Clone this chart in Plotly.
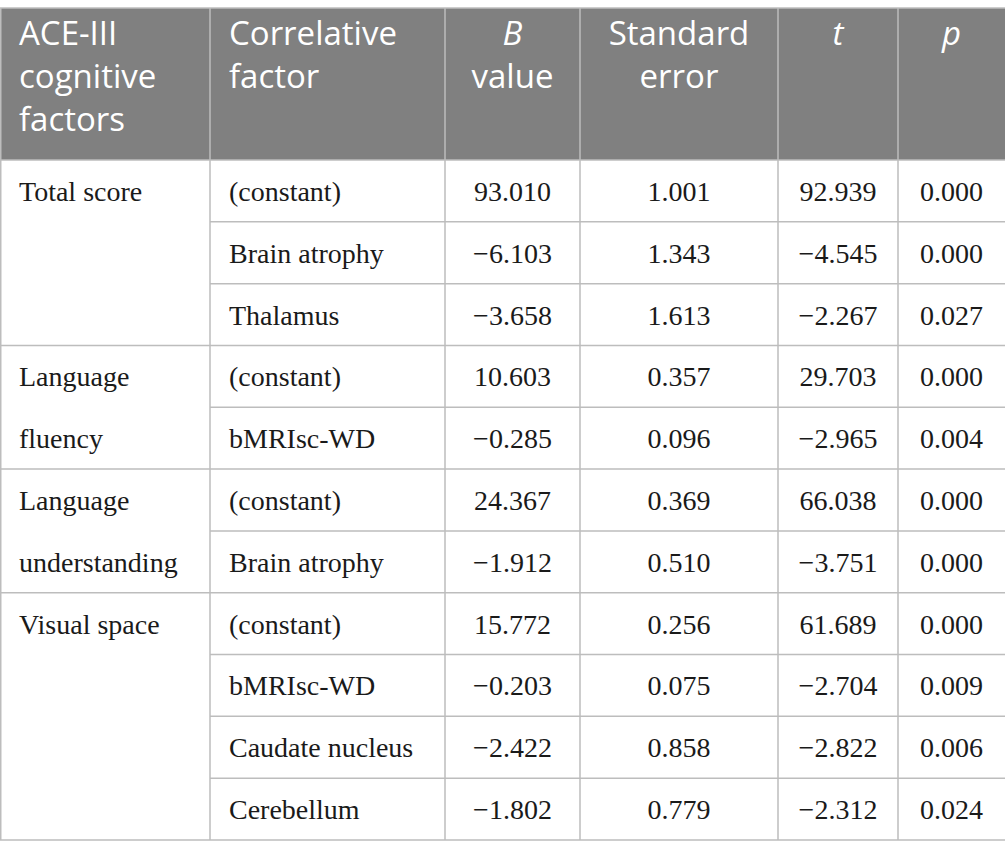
import plotly.graph_objects as go
import numpy as np

# table content
headers = ["ACE-III<br>cognitive<br>factors", "Correlative<br>factor", "<i>B</i><br>value",
           "Standard<br>error", "<i>t</i>", "<i>p</i>"]
group_labels = [["Total score"], ["Language", "fluency"], ["Language", "understanding"], ["Visual space"]]
group_sizes = [3, 2, 2, 4]
factors = ["(constant)", "Brain atrophy", "Thalamus", "(constant)", "bMRIsc-WD", "(constant)",
           "Brain atrophy", "(constant)", "bMRIsc-WD", "Caudate nucleus", "Cerebellum"]
b_value = [93.010, -6.103, -3.658, 10.603, -0.285, 24.367, -1.912, 15.772, -0.203, -2.422, -1.802]
std_err = [1.001, 1.343, 1.613, 0.357, 0.096, 0.369, 0.510, 0.256, 0.075, 0.858, 0.779]
t_value = [92.939, -4.545, -2.267, 29.703, -2.965, 66.038, -3.751, 61.689, -2.704, -2.822, -2.312]
p_value = [0.000, 0.000, 0.027, 0.000, 0.004, 0.000, 0.000, 0.000, 0.009, 0.006, 0.024]

# geometry (px-like units on hidden axes)
W, H = 1005, 856
table_top, header_h, table_bottom = 8, 152, 840
col_w = [210, 235, 135, 198, 120, 107]
left_cols = 2          # first two columns are left aligned
pad = 19
line_col = "#bdbdbd"
head_fill = "#808080"
text_col = "#1a1a1a"


def fmt(vals):
    return [f"{v:.3f}".replace("-", "\u2212") for v in vals]


edges = np.concatenate([[0], np.cumsum(col_w)])
n_rows = len(factors)
body_top = table_top + header_h
row_h = (table_bottom - body_top) / n_rows
row_mid = body_top + row_h * (np.arange(n_rows) + 0.5) + 3

# first column: each label line sits in its own row of the (merged) group
first_col = []
for labels, n in zip(group_labels, group_sizes):
    first_col += labels + [""] * (n - len(labels))

columns = [first_col, factors, fmt(b_value), fmt(std_err), fmt(t_value), fmt(p_value)]

fig = go.Figure()

# header text
for c, h in enumerate(headers):
    left = c < left_cols
    fig.add_trace(go.Scatter(
        x=[edges[c] + pad if left else (edges[c] + edges[c + 1]) / 2],
        y=[table_top + 12],
        mode="text", text=[h],
        textposition="bottom right" if left else "bottom center",
        textfont=dict(family="Open Sans", size=33, color="white"),
        hoverinfo="skip", showlegend=False,
    ))

# body text
for c, vals in enumerate(columns):
    left = c < left_cols
    fig.add_trace(go.Scatter(
        x=[edges[c] + pad if left else (edges[c] + edges[c + 1]) / 2] * n_rows,
        y=row_mid,
        mode="text", text=vals,
        textposition="middle right" if left else "middle center",
        textfont=dict(family="Liberation Serif", size=28, color=text_col),
        hoverinfo="skip", showlegend=False,
    ))

# header background and grid lines
shapes = [dict(type="rect", x0=0, x1=W, y0=table_top, y1=body_top,
               fillcolor=head_fill, line_width=0, layer="below")]


def hline(y, x0, x1):
    return dict(type="line", x0=x0, x1=x1, y0=y, y1=y, line=dict(color=line_col, width=1.5))


shapes.append(hline(table_top, 0, W))
shapes.append(hline(body_top, 0, W))
# row separators for columns 2..6
for r in range(1, n_rows + 1):
    shapes.append(hline(body_top + r * row_h, edges[1], W))
# group separators for the merged first column
k = 0
for n in group_sizes:
    k += n
    shapes.append(hline(body_top + k * row_h, 0, edges[1]))
# column separators
for x in list(edges[:-1]):
    x = max(x, 0.75)
    shapes.append(dict(type="line", x0=x, x1=x, y0=table_top, y1=table_bottom,
                       line=dict(color=line_col, width=1.5)))

fig.update_layout(
    width=W, height=H,
    margin=dict(l=0, r=0, t=0, b=0),
    paper_bgcolor="white", plot_bgcolor="white",
    xaxis=dict(range=[0, W], visible=False, fixedrange=True),
    yaxis=dict(range=[H, 0], visible=False, fixedrange=True),
    shapes=shapes,
    hovermode=False,
)

fig.write_html("out.html", config={"displayModeBar": False},
               post_script="document.body.style.margin='0';")
